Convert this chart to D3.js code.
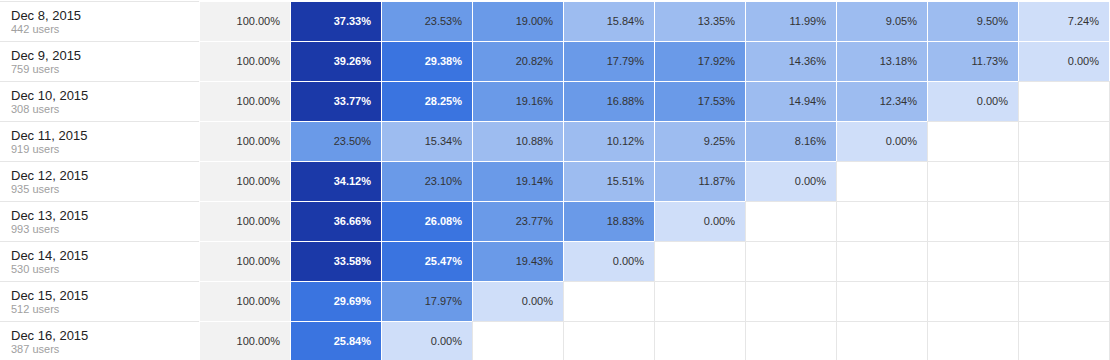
<!DOCTYPE html>
<html>
<head>
<meta charset="utf-8">
<script src="https://cdn.jsdelivr.net/npm/d3@7/dist/d3.min.js"></script>
<style>
  html, body { margin: 0; padding: 0; background: #fff; }
  svg { display: block; font-family: Arial, "Liberation Sans", sans-serif; }
</style>
</head>
<body>
<svg id="chart" width="1110" height="360"></svg>
<script>
// ---- data ----
const cohorts = ["Dec 8, 2015", "Dec 9, 2015", "Dec 10, 2015", "Dec 11, 2015", "Dec 12, 2015",
                 "Dec 13, 2015", "Dec 14, 2015", "Dec 15, 2015", "Dec 16, 2015"];
const users = [442, 759, 308, 919, 935, 993, 530, 512, 387];
const days = [0, 1, 2, 3, 4, 5, 6, 7, 8, 9];
const dec8  = [100, 37.33, 23.53, 19.00, 15.84, 13.35, 11.99, 9.05, 9.50, 7.24];
const dec9  = [100, 39.26, 29.38, 20.82, 17.79, 17.92, 14.36, 13.18, 11.73, 0.00];
const dec10 = [100, 33.77, 28.25, 19.16, 16.88, 17.53, 14.94, 12.34, 0.00];
const dec11 = [100, 23.50, 15.34, 10.88, 10.12, 9.25, 8.16, 0.00];
const dec12 = [100, 34.12, 23.10, 19.14, 15.51, 11.87, 0.00];
const dec13 = [100, 36.66, 26.08, 23.77, 18.83, 0.00];
const dec14 = [100, 33.58, 25.47, 19.43, 0.00];
const dec15 = [100, 29.69, 17.97, 0.00];
const dec16 = [100, 25.84, 0.00];
const retention = [dec8, dec9, dec10, dec11, dec12, dec13, dec14, dec15, dec16];
const thresholds = [8, 16, 25, 31];
const palette = ["#cfdef9", "#9dbcf0", "#6a9ae8", "#3a74e0", "#1b39a8"];

// ---- layout ----
const W = 1110, H = 360;
const svg = d3.select("#chart");
const x = d3.scaleBand().domain(days).range([199, 1109]).paddingInner(0).paddingOuter(0);
const y = d3.scaleBand().domain(d3.range(cohorts.length)).range([1, 361]);
const color = d3.scaleThreshold().domain(thresholds).range(palette);

svg.append("rect").attr("width", W).attr("height", H).attr("fill", "#fff");

// empty grid cells (light gray lines)
const grid = svg.append("g");
cohorts.forEach((c, r) => {
  days.forEach(d => {
    if (d < retention[r].length) return;
    grid.append("rect")
      .attr("x", x(d) + 0.5).attr("y", y(r) + 0.5)
      .attr("width", x.bandwidth()).attr("height", y.bandwidth())
      .attr("fill", "#fff").attr("stroke", "#e6e6e6").attr("stroke-width", 1);
  });
  // label column separators
  [y(r) + 0.5, y(r) + y.bandwidth() + 0.5].forEach(yy => {
    grid.append("line")
      .attr("x1", 0).attr("x2", x(0))
      .attr("y1", yy).attr("y2", yy)
      .attr("stroke", "#e6e6e6");
  });
});

// labels
const lab = svg.append("g");
cohorts.forEach((c, r) => {
  lab.append("text").attr("x", 11).attr("y", y(r) + 18.5)
    .attr("font-size", 13).attr("fill", "#222").text(c);
  lab.append("text").attr("x", 11).attr("y", y(r) + 31.5)
    .attr("font-size", 11).attr("fill", "#a0a0a0").text(users[r] + " users");
});

// cells
const cells = svg.append("g");
retention.forEach((row, r) => {
  row.forEach((v, d) => {
    const fill = d === 0 ? "#f2f2f2" : color(v);
    cells.append("rect")
      .attr("x", x(d) + 1).attr("y", y(r) + 1)
      .attr("width", x.bandwidth() - 1).attr("height", y.bandwidth() - 1)
      .attr("fill", fill);
    const strong = d > 0 && v >= thresholds[2];
    cells.append("text")
      .attr("x", x(d) + x.bandwidth() - 10)
      .attr("y", y(r) + 24)
      .attr("text-anchor", "end")
      .attr("font-size", 11)
      .attr("font-weight", strong ? "bold" : "normal")
      .attr("fill", strong ? "#fff" : "#333")
      .text(v.toFixed(2) + "%");
  });
});
</script>
</body>
</html>
